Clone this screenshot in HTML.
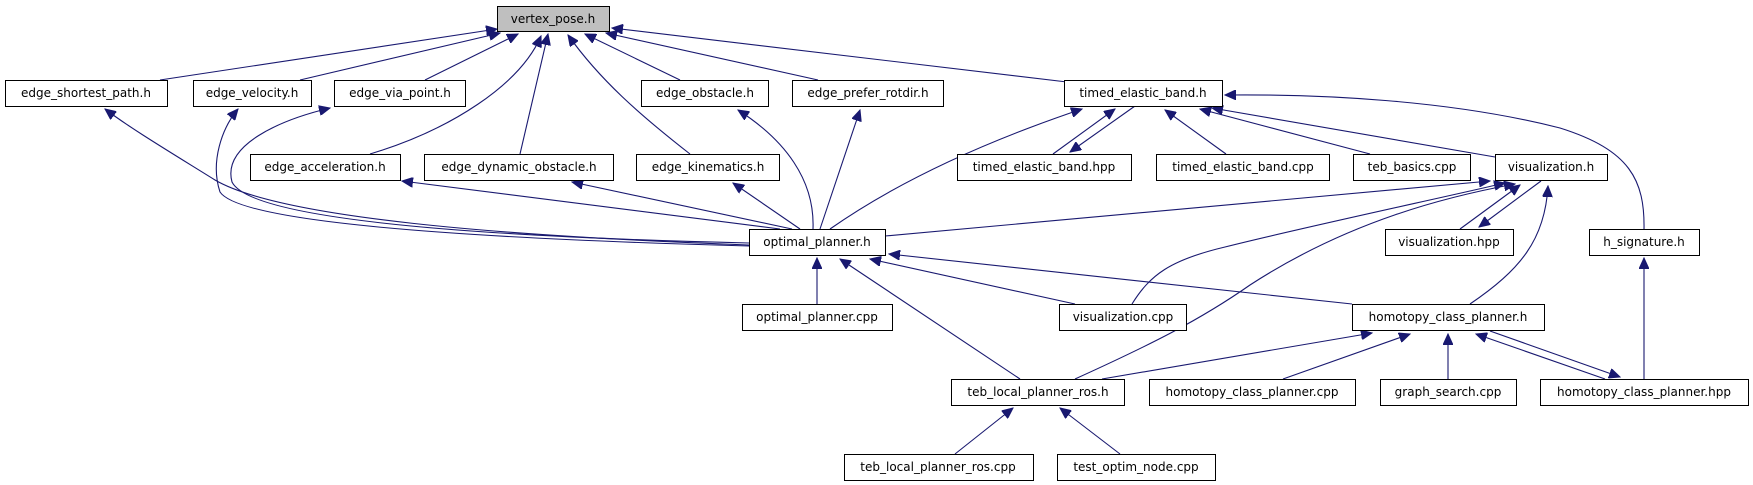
<!DOCTYPE html>
<html><head><meta charset="utf-8"><style>
html,body{margin:0;padding:0;background:#fff}
svg{display:block}
text{font-family:"DejaVu Sans","Liberation Sans",sans-serif;font-size:12px;fill:#000}
</style></head><body>
<svg width="1753" height="485" viewBox="0 0 1753 485" xmlns="http://www.w3.org/2000/svg">
<defs>
<marker id="a" markerUnits="userSpaceOnUse" markerWidth="12" markerHeight="10" refX="11" refY="5" orient="auto">
<path d="M0,0 L11,5 L0,10 Z" fill="#191970" stroke="#191970"/>
</marker>
</defs>
<g fill="none" stroke="#191970" stroke-width="1.1" marker-end="url(#a)">
<!-- to vertex_pose -->
<path d="M160,80 L497,29"/>
<path d="M300,80 L500,33"/>
<path d="M425,80 L518,34"/>
<path d="M370,154 C450,130 520,85 541,36"/>
<path d="M520,154 L548,34"/>
<path d="M690,154 C640,115 600,80 568,35"/>
<path d="M680,80 L585,34"/>
<path d="M818,80 L606,33"/>
<path d="M1067,82 L612,28"/>
<!-- optimal_planner.h to parents -->
<path d="M749,245 C500,236 280,218 215,180 C170,152 130,128 105,109"/>
<path d="M749,246 C450,238 240,222 220,192 C210,162 222,128 238,109"/>
<path d="M749,243 C450,236 250,218 232,182 C222,145 280,120 330,108"/>
<path d="M780,229 L402,181"/>
<path d="M792,229 L572,182"/>
<path d="M800,229 L733,183"/>
<path d="M813,229 C815,180 785,140 738,110"/>
<path d="M820,229 L860,110"/>
<path d="M830,229 C900,180 990,140 1082,109"/>
<!-- timed_elastic_band.h children -->
<path d="M1053,154 L1115,109"/>
<path d="M1135,106 L1070,152"/>
<path d="M1226,154 L1165,110"/>
<path d="M1370,154 L1200,109"/>
<path d="M1495,157 L1212,108"/>
<path d="M1644,230 C1645,180 1630,150 1560,128 C1450,100 1320,94 1225,95"/>
<!-- visualization.h children -->
<path d="M885,236 L1490,181"/>
<path d="M1132,304 C1150,275 1170,260 1225,247 C1300,228 1450,196 1505,183"/>
<path d="M1075,379 C1150,345 1200,320 1250,285 C1350,220 1450,196 1515,184"/>
<path d="M1460,229 L1520,185"/>
<path d="M1541,181 L1479,227"/>
<path d="M1470,304 C1520,270 1545,240 1548,186"/>
<!-- optimal_planner.h children -->
<path d="M817,304 L817,258"/>
<path d="M1075,304 L870,259"/>
<path d="M1020,379 L840,259"/>
<path d="M1352,304 L889,254"/>
<!-- homotopy_class_planner.h children -->
<path d="M1102,379 L1372,333"/>
<path d="M1283,379 L1410,334"/>
<path d="M1448,379 L1448,334"/>
<path d="M1605,379 L1476,334"/>
<path d="M1490,331 L1620,377"/>
<path d="M1644,379 L1644,258"/>
<!-- teb_local_planner_ros.h children -->
<path d="M955,454 L1013,408"/>
<path d="M1120,454 L1060,408"/>
</g>
<g stroke="#000" stroke-width="1" fill="#fff">
<rect x="497.5" y="6.5" width="112" height="25" fill="#bfbfbf"/>
<rect x="5.5" y="80.5" width="162" height="26"/>
<rect x="193.5" y="80.5" width="118" height="26"/>
<rect x="334.5" y="80.5" width="131" height="26"/>
<rect x="641.5" y="80.5" width="127" height="26"/>
<rect x="792.5" y="80.5" width="151" height="26"/>
<rect x="1064.5" y="80.5" width="158" height="26"/>
<rect x="250.5" y="154.5" width="150" height="26"/>
<rect x="424.5" y="154.5" width="189" height="26"/>
<rect x="636.5" y="154.5" width="143" height="26"/>
<rect x="957.5" y="154.5" width="174" height="26"/>
<rect x="1156.5" y="154.5" width="173" height="26"/>
<rect x="1353.5" y="154.5" width="117" height="26"/>
<rect x="1495.5" y="154.5" width="112" height="26"/>
<rect x="749.5" y="229.5" width="136" height="26"/>
<rect x="1385.5" y="229.5" width="128" height="26"/>
<rect x="1589.5" y="229.5" width="110" height="26"/>
<rect x="742.5" y="304.5" width="150" height="26"/>
<rect x="1059.5" y="304.5" width="127" height="26"/>
<rect x="1352.5" y="304.5" width="192" height="26"/>
<rect x="951.5" y="379.5" width="173" height="26"/>
<rect x="1149.5" y="379.5" width="206" height="26"/>
<rect x="1380.5" y="379.5" width="136" height="26"/>
<rect x="1540.5" y="379.5" width="208" height="26"/>
<rect x="844.5" y="454.5" width="189" height="26"/>
<rect x="1057.5" y="454.5" width="158" height="26"/>
</g>
<g text-anchor="middle">
<text x="553" y="23">vertex_pose.h</text>
<text x="86" y="97">edge_shortest_path.h</text>
<text x="252" y="97">edge_velocity.h</text>
<text x="400" y="97">edge_via_point.h</text>
<text x="705" y="97">edge_obstacle.h</text>
<text x="868" y="97">edge_prefer_rotdir.h</text>
<text x="1143" y="97">timed_elastic_band.h</text>
<text x="325" y="171">edge_acceleration.h</text>
<text x="519" y="171">edge_dynamic_obstacle.h</text>
<text x="708" y="171">edge_kinematics.h</text>
<text x="1044" y="171">timed_elastic_band.hpp</text>
<text x="1243" y="171">timed_elastic_band.cpp</text>
<text x="1412" y="171">teb_basics.cpp</text>
<text x="1551" y="171">visualization.h</text>
<text x="817" y="246">optimal_planner.h</text>
<text x="1449" y="246">visualization.hpp</text>
<text x="1644" y="246">h_signature.h</text>
<text x="817" y="321">optimal_planner.cpp</text>
<text x="1123" y="321">visualization.cpp</text>
<text x="1448" y="321">homotopy_class_planner.h</text>
<text x="1038" y="396">teb_local_planner_ros.h</text>
<text x="1252" y="396">homotopy_class_planner.cpp</text>
<text x="1448" y="396">graph_search.cpp</text>
<text x="1644" y="396">homotopy_class_planner.hpp</text>
<text x="938" y="471">teb_local_planner_ros.cpp</text>
<text x="1136" y="471">test_optim_node.cpp</text>
</g>
</svg>
</body></html>
